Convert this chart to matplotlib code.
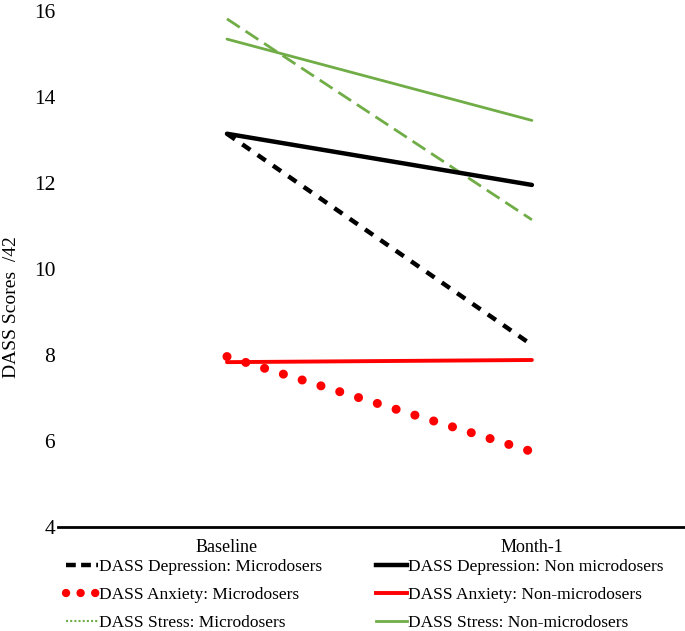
import matplotlib.pyplot as plt
from matplotlib.lines import Line2D

# time points
timepoints = ['Baseline', 'Month-1']

# DASS scores
dep_micro = [13.14, 8.23]
dep_nonmicro = [13.14, 11.95]
anx_micro = [7.96, 5.75]
anx_nonmicro = [7.83, 7.88]
stress_micro = [15.81, 11.14]
stress_nonmicro = [15.34, 13.45]

labels_micro = ['DASS Depression: Microdosers', 'DASS Anxiety: Microdosers',
                'DASS Stress: Microdosers']
labels_nonmicro = ['DASS Depression: Non microdosers', 'DASS Anxiety: Non-microdosers',
                   'DASS Stress: Non-microdosers']

green = '#70AD47'
red = '#FF0000'
serif = ['Liberation Serif', 'DejaVu Serif']

plt.rcParams['font.family'] = serif

fig = plt.figure(figsize=(6.85, 6.31), dpi=100)
ax = fig.add_axes([0.0847, 0.165, 0.9153, 0.818])

x = list(range(len(timepoints)))

ax.plot(x, stress_micro, color=green, lw=2, linestyle=(0, (5.5, 2.5)))
ax.plot(x, stress_nonmicro, color=green, lw=2, solid_capstyle='round')
ax.plot(x, dep_nonmicro, color='black', lw=3.2, solid_capstyle='round')
ax.plot(x, dep_micro, color='black', lw=3.2, linestyle=(0, (2.2, 2.0)))
ax.plot(x, anx_nonmicro, color=red, lw=2.8, solid_capstyle='round')
ax.plot(x, anx_micro, color=red, lw=6.5, linestyle=(0, (0.01, 2.17)),
        dash_capstyle='round')

ax.set_xlim(-0.554, 1.502)
ax.set_ylim(4, 16)
ax.set_yticks([4, 6, 8, 10, 12, 14, 16])
ax.set_xticks(x)
ax.set_xticklabels(timepoints, fontsize=13)
ax.tick_params(axis='y', length=0, labelsize=15.5, pad=2)
ax.tick_params(axis='x', length=0, pad=9)
for s in ['top', 'right', 'left']:
    ax.spines[s].set_visible(False)
ax.spines['bottom'].set_linewidth(2)
ax.set_ylabel('DASS Scores  /42', fontsize=14)
ax.yaxis.set_label_coords(-0.061, 0.425)

# legend proxies (as shown in the original key)
h_micro = [
    Line2D([], [], color='black', lw=3.2, linestyle=(0, (2.2, 1.2))),
    Line2D([], [], color=red, lw=6, linestyle=(0, (0.01, 1.74)), dash_capstyle='round'),
    Line2D([], [], color=green, lw=1.5, linestyle=(0, (1, 1))),
]
h_nonmicro = [
    Line2D([], [], color='black', lw=3.2),
    Line2D([], [], color=red, lw=2.8),
    Line2D([], [], color=green, lw=2),
]

kw = dict(loc='upper left', frameon=False, prop=dict(family=serif, size=12.5),
          handlelength=1.8, handletextpad=0.05, labelspacing=0.68,
          borderpad=0, borderaxespad=0)
leg1 = fig.legend(h_micro, labels_micro, bbox_to_anchor=(0.097, 0.114), **kw)
leg2 = fig.legend(h_nonmicro, labels_nonmicro, bbox_to_anchor=(0.549, 0.114), **kw)

fig.savefig('out.png', dpi=100)
